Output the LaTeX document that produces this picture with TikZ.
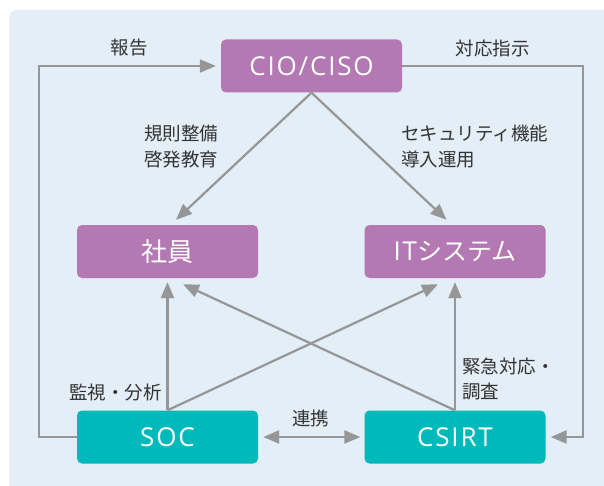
\documentclass[tikz,border=0pt]{standalone}
\usepackage{fontspec}
\setmainfont{Noto Sans CJK JP}
\newfontfamily\boxlatin[LetterSpace=7]{Open Sans}
\usetikzlibrary{arrows.meta,calc}
\definecolor{bgc}{RGB}{227,238,247}
\definecolor{purp}{RGB}{180,120,178}
\definecolor{tealbox}{RGB}{0,185,187}
\definecolor{arr}{RGB}{150,150,150}
\definecolor{txt}{RGB}{51,51,51}
\begin{document}
\begin{tikzpicture}[x=1pt,y=-1pt,
  box/.style={rounded corners=5pt, minimum width=181pt, minimum height=53pt, inner sep=0pt, text=white, font=\fontsize{26}{30}\selectfont},
  pbox/.style={box, fill=purp},
  tbox/.style={box, fill=tealbox},
  conn/.style={draw=arr, line width=2.2pt, -{Triangle[length=16pt,width=13pt]}},
  connb/.style={draw=arr, line width=2.2pt, {Triangle[length=16pt,width=13pt]}-{Triangle[length=16pt,width=13pt]}},
  lbl/.style={text=txt, font=\fontsize{18.5}{25.5}\selectfont, inner sep=0pt, align=left}]
\useasboundingbox (0,0) rectangle (604,486);
\fill[bgc] (9,486) [rounded corners=8pt] -- (9,10) [sharp corners] -- (604,10) -- (604,486) -- cycle;

\node[pbox] (cio) at (311.5,66) {\boxlatin CIO/CISO};
\node[pbox] (emp) at (167.5,251.5) {社員};
\node[pbox] (it) at (455,251.5) {{\boxlatin IT}{\fontsize{25}{30}\selectfont システム}};
\node[tbox] (soc) at (167.5,437) {\boxlatin SOC};
\node[tbox] (csirt) at (455,437) {\boxlatin CSIRT};

\coordinate (L) at (39,66);
\coordinate (R) at (583,66);

\draw[conn, shorten >=5pt] (soc.west) -| (L) -- (cio.west);
\draw[conn, shorten >=5pt] (cio.east) -| (R) |- (csirt.east);
\draw[conn] (cio.south) -- ($(emp.north)+(8.5,-5)$);
\draw[conn] (cio.south) -- ($(it.north)+(-8.5,-5)$);
\draw[conn] (soc.north) -- ($(emp.south)+(0,4)$);
\draw[conn] (soc.north) -- ($(it.south)+(-17,6)$);
\draw[conn] (csirt.north) -- ($(emp.south)+(15.5,6)$);
\draw[conn] (csirt.north) -- ($(it.south)+(0,4)$);
\draw[connb, shorten <=5pt, shorten >=4pt] (soc.east) -- (csirt.west);

\node[lbl] (l1) at (129,48) {報告};
\node[lbl] (l2) at (492.5,48) {対応指示};
\node[lbl, anchor=west] (l3) at (144,146.5) {規則整備\\啓発教育};
\node[lbl, anchor=west] (l4) at (401,146.5) {セキュリティ機能\\導入運用};
\node[lbl, anchor=west] (l5) at (69,392.5) {監視・分析};
\node[lbl] (l6) at (310.5,418) {連携};
\node[lbl, anchor=west] (l7) at (462,379) {緊急対応・\\調査};
\end{tikzpicture}
\end{document}
